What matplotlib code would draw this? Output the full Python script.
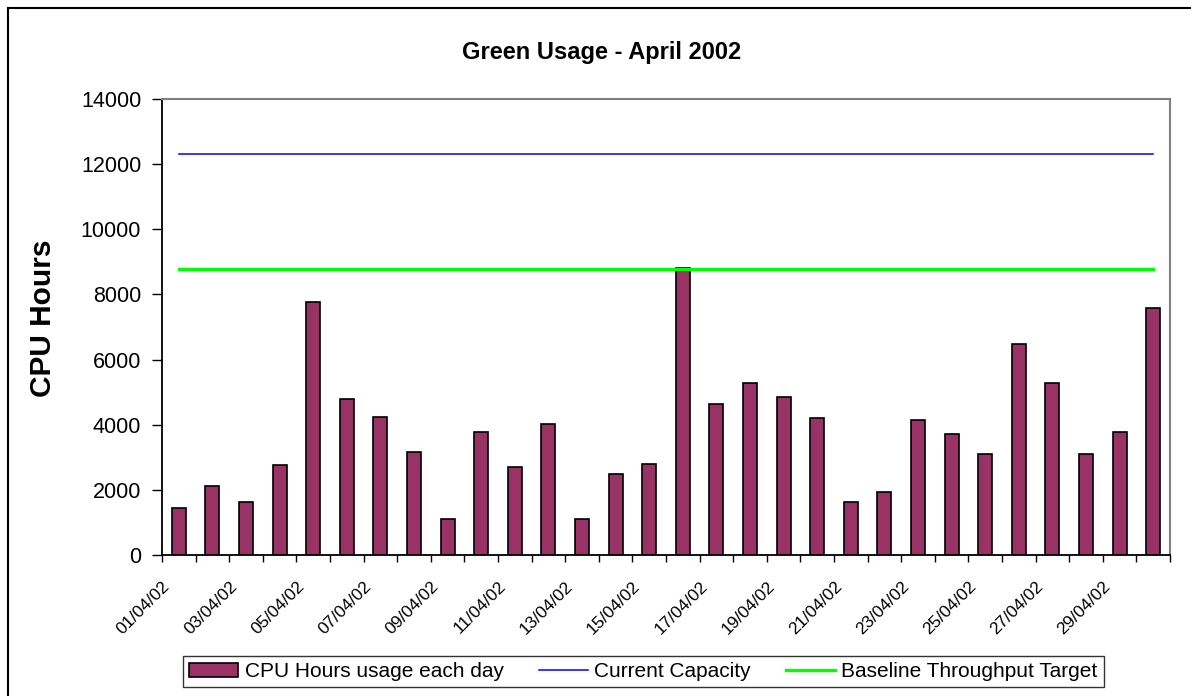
import matplotlib
matplotlib.use('Agg')
import matplotlib.pyplot as plt
from matplotlib.patches import Rectangle
import numpy as np

plt.rcParams['font.family'] = ['Liberation Sans', 'DejaVu Sans']

days = ['%02d/04/02' % d for d in range(1, 31)]
cpu_hours = [1450, 2130, 1640, 2760, 7760, 4780, 4250, 3150, 1100, 3790,
             2700, 4030, 1100, 2500, 2800, 8820, 4650, 5270, 4840, 4210,
             1630, 1920, 4160, 3720, 3090, 6490, 5270, 3090, 3790, 7590]
capacity = [12300] * 30
baseline = [8770] * 30

fig = plt.figure(figsize=(11.91, 6.96), dpi=100)
ax = fig.add_axes([162/1191, 1-555/696, 1008/1191, 456/696])

x = np.arange(len(days))
bars = ax.bar(x, cpu_hours, width=0.42, color='#993366', edgecolor='black',
              linewidth=1.2, label='CPU Hours usage each day')
l1, = ax.plot(x, capacity, color='#0000FF', lw=1.1, label='Current Capacity')
l2, = ax.plot(x, baseline, color='#00FF00', lw=2.4, label='Baseline Throughput Target')

ax.set_xlim(-0.5, len(days) - 0.5)
ax.set_ylim(0, 14000)
ax.set_yticks(np.arange(0, 14001, 2000))
ax.tick_params(axis='y', direction='out', length=7, width=1, labelsize=15.5, pad=8)

# ticks sit on category boundaries, labels on every other one
bounds = np.arange(len(days) + 1) - 0.5
labs = [days[i] if (i < len(days) and i % 2 == 0) else '' for i in range(len(bounds))]
ax.set_xticks(bounds)
ax.set_xticklabels(labs, rotation=45, ha='right', va='top', rotation_mode='anchor', fontsize=12.5)
ax.tick_params(axis='x', direction='out', length=5, width=1, pad=12)

for s in ['left', 'bottom']:
    ax.spines[s].set_color('black')
    ax.spines[s].set_linewidth(1.3)
for s in ['top', 'right']:
    ax.spines[s].set_color('#808080')
    ax.spines[s].set_linewidth(1.5)

ax.set_ylabel('CPU Hours', fontsize=21.5, fontweight='bold')
ax.yaxis.set_label_coords(-105/1008, 0.52)
fig.text(602/1191, 1-53/696, 'Green Usage - April 2002', ha='center', va='center',
         fontsize=17, fontweight='bold')

leg = fig.legend(handles=[bars, l1, l2], loc='center', ncol=3,
                 bbox_to_anchor=(643.5/1191, 1-671.5/696), fontsize=15,
                 frameon=True, fancybox=False, edgecolor='black',
                 handlelength=2.35, handleheight=0.65, columnspacing=1.7,
                 handletextpad=0.3, borderpad=0.3)
leg.get_frame().set_linewidth(1.0)

# outer chart border
fig.patches.append(Rectangle((8/1191, -0.1), 1.2, 1.1 - 8/696, transform=fig.transFigure,
                             fill=False, edgecolor='black', linewidth=1.5))

fig.savefig('out.png', dpi=100)
